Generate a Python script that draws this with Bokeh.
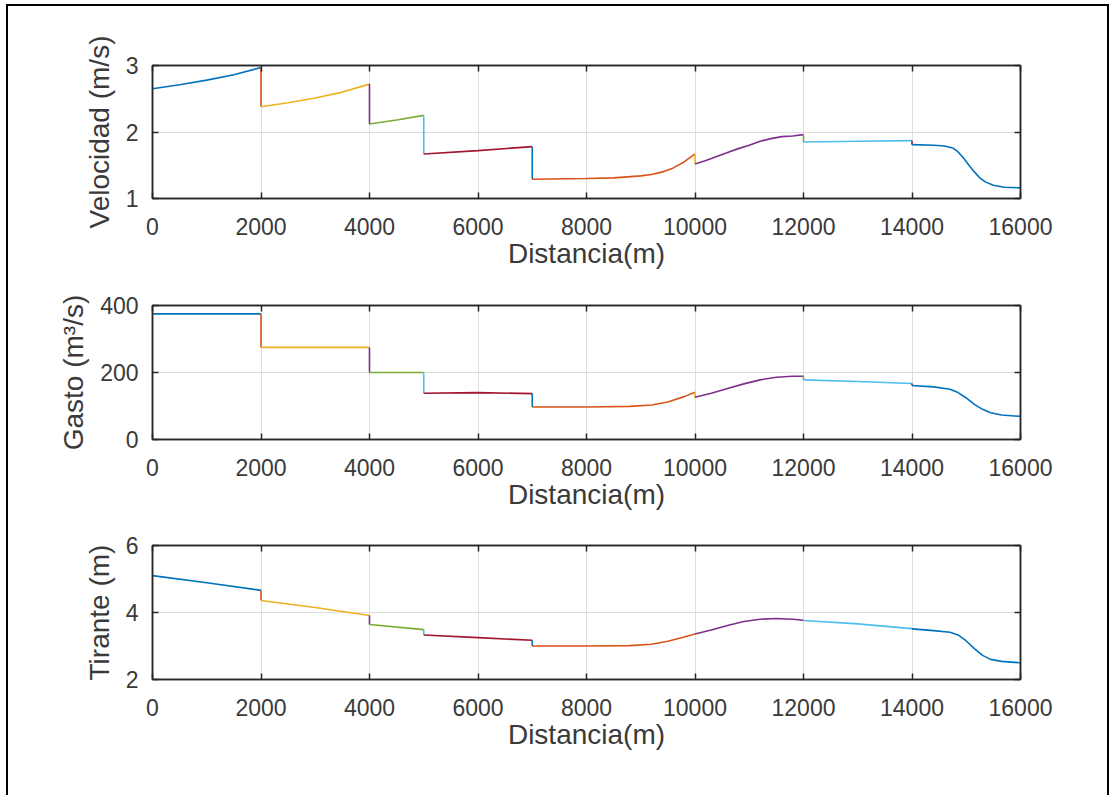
from bokeh.plotting import figure
from bokeh.models import LinearAxis, FixedTicker, Range1d, CustomLabelingPolicy
from bokeh.layouts import column
from bokeh.embed import file_html
from bokeh.resources import INLINE

# ---- data ----
x_ticks = [0, 2000, 4000, 6000, 8000, 10000, 12000, 14000, 16000]

# Velocidad (m/s), one list per reach
vel_x = [
    [0, 500, 1000, 1500, 2000],
    [2000, 2500, 3000, 3500, 4000],
    [4000, 4500, 5000],
    [5000, 6000, 7000],
    [7000, 8000, 8500, 9000, 9200, 9400, 9600, 9800, 10000],
    [10000, 10200, 10400, 10600, 10800, 11000, 11200, 11400, 11600, 11800, 12000],
    [12000, 13000, 14000],
    [14000, 14400, 14600, 14750, 14850, 14950, 15050, 15150, 15250, 15350, 15500, 15700, 16000],
]
vel_y = [
    [2.65, 2.71, 2.78, 2.86, 2.97],
    [2.38, 2.44, 2.51, 2.60, 2.72],
    [2.12, 2.18, 2.25],
    [1.67, 1.72, 1.78],
    [1.29, 1.30, 1.31, 1.34, 1.36, 1.40, 1.46, 1.55, 1.67],
    [1.52, 1.57, 1.63, 1.69, 1.75, 1.80, 1.86, 1.90, 1.93, 1.94, 1.96],
    [1.85, 1.86, 1.87],
    [1.81, 1.80, 1.79, 1.76, 1.70, 1.61, 1.50, 1.40, 1.31, 1.25, 1.20, 1.17, 1.16],
]
vel_ticks = [1, 2, 3]

# Gasto (m3/s)
gasto_x = [
    [0, 2000],
    [2000, 4000],
    [4000, 5000],
    [5000, 6000, 7000],
    [7000, 8000, 8800, 9200, 9500, 9800, 10000],
    [10000, 10300, 10600, 10900, 11200, 11500, 11800, 12000],
    [12000, 13000, 14000],
    [14000, 14400, 14700, 14850, 15000, 15150, 15300, 15450, 15650, 16000],
]
gasto_y = [
    [375, 375],
    [275, 275],
    [200, 200],
    [138, 140, 137],
    [97, 97, 99, 103, 112, 128, 141],
    [126, 138, 152, 166, 178, 186, 189, 189],
    [178, 173, 167],
    [161, 157, 150, 140, 124, 105, 90, 80, 73, 69],
]
gasto_ticks = [0, 200, 400]

# Tirante (m)
tir_x = [
    [0, 1000, 2000],
    [2000, 3000, 4000],
    [4000, 5000],
    [5000, 6000, 7000],
    [7000, 8000, 8800, 9200, 9500, 9800, 10000],
    [10000, 10300, 10600, 10900, 11200, 11500, 11800, 12000],
    [12000, 13000, 14000],
    [14000, 14400, 14700, 14850, 15000, 15150, 15300, 15450, 15650, 16000],
]
tir_y = [
    [5.10, 4.89, 4.66],
    [4.36, 4.15, 3.91],
    [3.64, 3.49],
    [3.33, 3.25, 3.17],
    [3.00, 3.00, 3.01, 3.05, 3.14, 3.27, 3.36],
    [3.36, 3.48, 3.61, 3.73, 3.80, 3.82, 3.80, 3.77],
    [3.76, 3.66, 3.52],
    [3.51, 3.46, 3.41, 3.33, 3.15, 2.92, 2.72, 2.60, 2.54, 2.50],
]
tir_ticks = [2, 4, 6]

colors = ["#0072BD", "#D95319", "#EDB120", "#7E2F8E", "#77AC30", "#4DBEEE", "#A2142F"]

FONT = "Liberation Sans"
AX = "#262626"
TXT = "#3a3a3a"


def make_fig(xs, ys, yr, yticks, ylabel, height, top, bottom):
    p = figure(width=1099, height=height,
               x_range=Range1d(0, 16000), y_range=Range1d(yr[0], yr[1]),
               output_backend="svg", toolbar_location=None,
               min_border_left=144, min_border_right=87,
               min_border_top=top, min_border_bottom=bottom,
               background_fill_color="white", border_fill_color="white")
    p.outline_line_color = AX
    p.outline_line_width = 1.5

    p.add_layout(LinearAxis(), "above")
    p.add_layout(LinearAxis(), "right")

    for ax in p.xaxis:
        ax.ticker = FixedTicker(ticks=x_ticks)
    for ax in p.yaxis:
        ax.ticker = FixedTicker(ticks=yticks)

    for ax in p.xaxis + p.yaxis:
        ax.axis_line_color = AX
        ax.axis_line_width = 1.5
        ax.major_tick_line_color = AX
        ax.major_tick_line_width = 1.5
        ax.major_tick_in = 6
        ax.major_tick_out = 0
        ax.minor_tick_line_color = None
        ax.major_label_text_font = FONT
        ax.major_label_text_font_size = "23px"
        ax.major_label_text_color = TXT
        ax.axis_label_text_font = FONT
        ax.axis_label_text_font_size = "28px"
        ax.axis_label_text_font_style = "normal"
        ax.axis_label_text_color = TXT

    # decorative top/right axes: ticks only, no labels drawn
    for ax in (p.above[0], p.right[0]):
        ax.major_label_standoff = 0
        ax.major_label_policy = CustomLabelingPolicy(
            code="for (const i of Array.from(indices)) { indices.unset(i) }\nreturn indices")

    bx = p.below[0]
    bx.major_label_standoff = 19
    bx.axis_label = "Distancia(m)"
    bx.axis_label_standoff = 0

    ly = p.left[0]
    ly.major_label_standoff = 14
    ly.axis_label = ylabel
    ly.axis_label_standoff = 8

    p.xgrid.grid_line_color = "#dedede"
    p.ygrid.grid_line_color = "#dedede"
    p.xgrid.grid_line_width = 1
    p.ygrid.grid_line_width = 1

    for i, (sx, sy) in enumerate(zip(xs, ys)):
        if i > 0:
            p.line([sx[0], sx[0]], [ys[i - 1][-1], sy[0]],
                   line_color=colors[(2 * i - 1) % 7], line_width=1.6)
        p.line(sx, sy, line_color=colors[(2 * i) % 7], line_width=1.6)
    return p


p1 = make_fig(vel_x, vel_y, (1, 3), vel_ticks, "Velocidad (m/s)", 269, 59, 77)
p2 = make_fig(gasto_x, gasto_y, (0, 400), gasto_ticks, "Gasto (m³/s)", 240, 30, 76)
p3 = make_fig(tir_x, tir_y, (2, 6), tir_ticks, "Tirante (m)", 280, 30, 116)

layout = column(p1, p2, p3, spacing=0,
                styles={"border-left": "2px solid black",
                        "border-top": "2px solid black",
                        "border-right": "2px solid black",
                        "margin-left": "6px",
                        "margin-top": "4px",
                        "background-color": "white"})

open("out.html", "w").write(file_html(layout, INLINE))
